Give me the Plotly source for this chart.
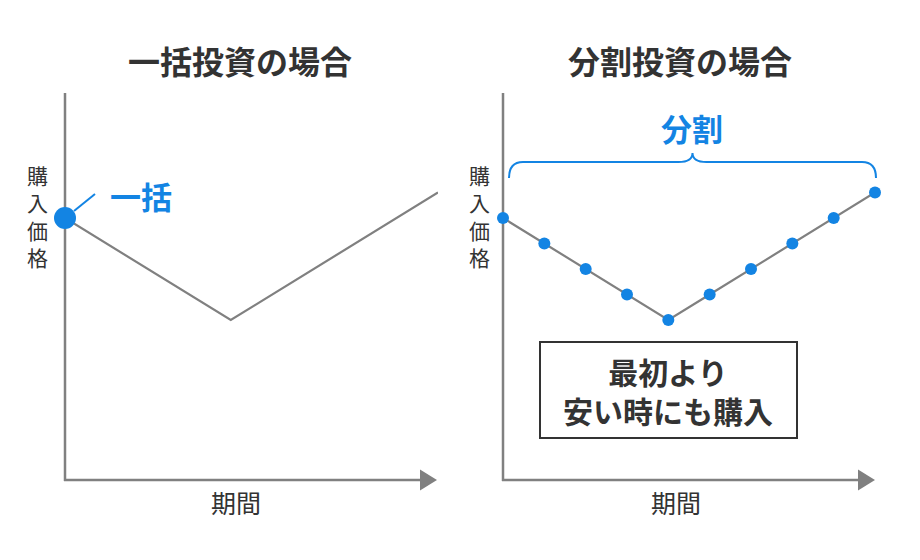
import plotly.graph_objects as go

# ---- data ----
periods_left = [0, 4, 9]
prices_left = [100, 60, 110]
lump_period = [0]
lump_price = [100]

periods_right = list(range(10))
prices_right = [100, 90, 80, 70, 60, 70, 80, 90, 100, 110]

titles = ["一括投資の場合", "分割投資の場合"]
y_label = "購入価格"
x_label = "期間"
box_lines = ["最初より", "安い時にも購入"]

W, H = 920, 560
BLUE = "#1384e3"
GRAY = "#808080"
TXT = "#333333"
FONT = "Noto Sans CJK JP"


def px(x):
    return x / W


def py(y):
    return 1 - y / H


fig = go.Figure()

fig.add_trace(go.Scatter(x=periods_left, y=prices_left, mode="lines",
                         line=dict(color=GRAY, width=2.2), xaxis="x", yaxis="y",
                         cliponaxis=False, hoverinfo="skip"))
fig.add_trace(go.Scatter(x=lump_period, y=lump_price, mode="markers",
                         marker=dict(color=BLUE, size=22), xaxis="x", yaxis="y",
                         cliponaxis=False))
fig.add_trace(go.Scatter(x=periods_right, y=prices_right, mode="lines+markers",
                         line=dict(color=GRAY, width=2.2),
                         marker=dict(color=BLUE, size=12), xaxis="x2", yaxis="y2",
                         cliponaxis=False))

yr = [60 - (480 - 320) / 2.55, 60 + (320 - 93) / 2.55]
ydom = [py(480), py(93)]

fig.update_layout(
    width=W, height=H, margin=dict(l=0, r=0, t=0, b=0),
    paper_bgcolor="white", plot_bgcolor="rgba(0,0,0,0)",
    showlegend=False,
    xaxis=dict(domain=[px(65), px(438)], range=[0, 9], visible=False),
    yaxis=dict(domain=ydom, range=yr, visible=False),
    xaxis2=dict(domain=[px(503), px(875)], range=[0, 9], visible=False, anchor="y2"),
    yaxis2=dict(domain=ydom, range=yr, visible=False, anchor="x2"),
)

shapes = []
for ax_x, arrow_tip in [(65, 437), (503, 875)]:
    shapes.append(dict(type="line", xref="paper", yref="paper",
                       x0=px(ax_x), x1=px(ax_x), y0=py(93), y1=py(481),
                       line=dict(color=GRAY, width=2.5), layer="below"))
    shapes.append(dict(type="line", xref="paper", yref="paper",
                       x0=px(ax_x - 1), x1=px(arrow_tip - 12), y0=py(480), y1=py(480),
                       line=dict(color=GRAY, width=2.5), layer="below"))
    x0 = arrow_tip - 17
    path = (f"M {px(x0)},{py(469.5)} L {px(arrow_tip)},{py(480)} "
            f"L {px(x0)},{py(490.5)} Z")
    shapes.append(dict(type="path", xref="paper", yref="paper", path=path,
                       fillcolor=GRAY, line=dict(color=GRAY, width=0)))

# connector for 一括
shapes.append(dict(type="line", xref="paper", yref="paper",
                   x0=px(74), y0=py(211), x1=px(95), y1=py(194),
                   line=dict(color=BLUE, width=2)))

# brace
bx0, bx1, bxm = 509, 876, 692.5
yt, yb, yp = 162, 178, 153
r = 14
bp = (f"M {px(bx0)},{py(yb)} Q {px(bx0)},{py(yt)} {px(bx0 + r)},{py(yt)} "
      f"L {px(bxm - r)},{py(yt)} Q {px(bxm)},{py(yt)} {px(bxm)},{py(yp)} "
      f"Q {px(bxm)},{py(yt)} {px(bxm + r)},{py(yt)} "
      f"L {px(bx1 - r)},{py(yt)} Q {px(bx1)},{py(yt)} {px(bx1)},{py(yb)}")
shapes.append(dict(type="path", xref="paper", yref="paper", path=bp,
                   line=dict(color=BLUE, width=2)))

# box
shapes.append(dict(type="rect", xref="paper", yref="paper",
                   x0=px(540), x1=px(797), y0=py(342), y1=py(438),
                   line=dict(color=TXT, width=2), fillcolor="white"))
fig.update_layout(shapes=shapes)

ann = []


def add_text(x, y, text, size, color=TXT, bold=False):
    t = f"<b>{text}</b>" if bold else text
    ann.append(dict(xref="paper", yref="paper", x=px(x), y=py(y), text=t,
                    showarrow=False, xanchor="center", yanchor="middle",
                    font=dict(family=FONT, size=size, color=color)))


add_text(240, 60, titles[0], 32, bold=True)
add_text(680, 60, titles[1], 32, bold=True)
vlab = "<br>".join(list(y_label))
add_text(37, 216, vlab, 21)
add_text(479, 216, vlab, 21)
add_text(236, 502, x_label, 25)
add_text(676, 502, x_label, 25)
add_text(141, 195, "一括", 31, color=BLUE, bold=True)
add_text(692, 128, "分割", 31, color=BLUE, bold=True)
add_text(668, 390, "<br>".join(box_lines), 30, bold=True)
fig.update_layout(annotations=ann)

fig.write_html("out.html")
